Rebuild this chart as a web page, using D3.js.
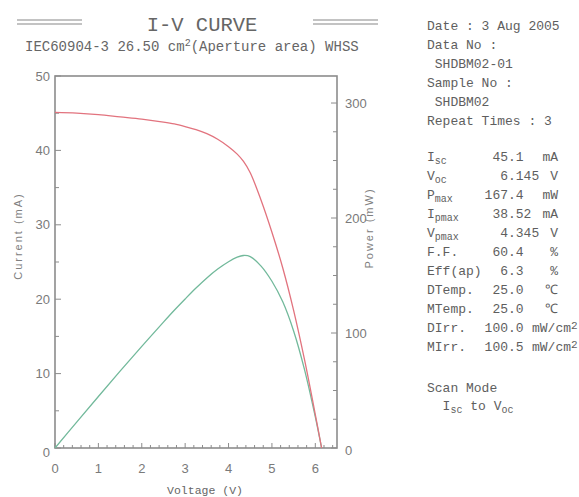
<!DOCTYPE html>
<html><head><meta charset="utf-8">
<script src="https://cdn.jsdelivr.net/npm/d3@7"></script>
<style>
html,body{margin:0;padding:0;background:#fff;}
svg{display:block;}
text{fill:#5e5e5e;}
.mono{font-family:"Liberation Mono","DejaVu Sans Mono",monospace;}
.sans{font-family:"Liberation Sans","Arial",sans-serif;}
</style></head>
<body>
<svg id="chart" width="579" height="497"></svg>
<script>
// ---- data ----
const voltage = [0,0.5,1,1.5,2,2.5,2.75,3,3.25,3.5,3.75,4.0,4.2,4.345,4.5,4.75,5.0,5.25,5.5,5.75,6.0,6.145];
const current = [45.1,45.0,44.8,44.5,44.2,43.8,43.55,43.2,42.8,42.25,41.5,40.5,39.5,38.52,37.0,33.3,29.0,24.2,18.5,11.9,4.5,0];
const power   = [0,22.5,44.8,66.8,88.4,109.5,119.8,129.6,139.1,147.9,155.6,162.0,165.9,167.4,166.5,158.2,145.0,127.1,101.8,68.4,27.0,0];
const xTicks = [0,1,2,3,4,5,6];
const yTicks = [0,10,20,30,40,50];
const y2Ticks = [0,100,200,300];
const titleText = "I-V CURVE";
const subtitleParts = ["IEC60904-3 26.50 cm","2","(Aperture area) WHSS"];
const infoTop = ["Date : 3 Aug 2005","Data No :","SHDBM02-01","Sample No :","SHDBM02","Repeat Times : 3"];
const infoIndent = [0,0,1,0,1,0];
const paramLabels = [["I","sc"],["V","oc"],["P","max"],["I","pmax"],["V","pmax"],["F.F.",""],["Eff(ap)",""],["DTemp.",""],["MTemp.",""],["DIrr.",""],["MIrr.",""]];
const paramValues = ["45.1","6.145","167.4","38.52","4.345","60.4","6.3","25.0","25.0","100.0","100.5"];
const paramUnits = ["mA","V","mW","mA","V","%","%","℃","℃","mW/cm2","mW/cm2"];

const svg = d3.select("#chart");
const L=55, R=337, T=76, B=448;
const x = d3.scaleLinear().domain([0,6.5]).range([L,R]);
const y = d3.scaleLinear().domain([0,50]).range([B,T]);
const y2 = d3.scaleLinear().domain([0,323.5]).range([B,T]);
const gray = "#8c8c8c";

// title
[20,24].forEach(yy=>{
  svg.append("line").attr("x1",17).attr("x2",82).attr("y1",yy).attr("y2",yy).attr("stroke","#888").attr("stroke-width",1.2);
  svg.append("line").attr("x1",313).attr("x2",378).attr("y1",yy).attr("y2",yy).attr("stroke","#888").attr("stroke-width",1.2);
});
svg.append("text").attr("class","mono").attr("x",202).attr("y",31).attr("text-anchor","middle")
  .style("font-size","20.5px").style("fill","#666").text(titleText);
const st = svg.append("text").attr("class","mono").attr("x",25).attr("y",51).style("font-size","14px").style("fill","#666");
st.append("tspan").text(subtitleParts[0]);
st.append("tspan").attr("dy",-5).style("font-size","10px").text(subtitleParts[1]);
st.append("tspan").attr("dy",5).text(subtitleParts[2]);

// ticks (inside)
const tickG = svg.append("g").attr("stroke",gray).attr("stroke-width",1);
d3.range(0,6.5001,0.2).forEach(v=>{
  const major = Math.abs(v-Math.round(v))<1e-6;
  tickG.append("line").attr("x1",x(v)).attr("x2",x(v)).attr("y1",B).attr("y2",B-(major?5:3));
});
d3.range(0,50.001,5).forEach(v=>{
  const major = v%10===0;
  tickG.append("line").attr("x1",L).attr("x2",L+(major?6:4)).attr("y1",y(v)).attr("y2",y(v));
});
d3.range(0,323,25).forEach(v=>{
  const major = v%100===0;
  tickG.append("line").attr("x1",R).attr("x2",R-(major?6:4)).attr("y1",y2(v)).attr("y2",y2(v));
});

// frame
svg.append("rect").attr("x",L).attr("y",T).attr("width",R-L).attr("height",B-T)
  .attr("fill","none").attr("stroke",gray).attr("stroke-width",1.6);

// tick labels
svg.append("g").selectAll("text").data(xTicks).join("text").attr("class","sans")
  .attr("x",d=>x(d)).attr("y",473).attr("text-anchor","middle").style("font-size","13px").style("fill","#7a7a7a").text(d=>d);
svg.append("g").selectAll("text").data(yTicks).join("text").attr("class","sans")
  .attr("x",50).attr("y",d=>y(d)+(d===0?9:4.5)).attr("text-anchor","end").style("font-size","13px").style("fill","#7a7a7a").text(d=>d);
svg.append("g").selectAll("text").data(y2Ticks).join("text").attr("class","sans")
  .attr("x",345).attr("y",d=>y2(d)+(d===0?7:4.5)).attr("text-anchor","start").style("font-size","13px").style("fill","#7a7a7a").text(d=>d);

// axis titles
svg.append("text").attr("class","mono").attr("x",205).attr("y",494).attr("text-anchor","middle")
  .style("font-size","11.5px").style("fill","#666").text("Voltage (V)");
svg.append("text").attr("class","sans").attr("transform","translate(22,236) rotate(-90)").attr("text-anchor","middle")
  .style("font-size","11px").style("letter-spacing","2px").style("fill","#808080").text("Current  (mA)");
svg.append("text").attr("class","sans").attr("transform","translate(373,228) rotate(-90)").attr("text-anchor","middle")
  .style("font-size","11px").style("letter-spacing","2px").style("fill","#808080").text("Power  (mW)");

// curves
const ivLine = d3.line().x((d,i)=>x(voltage[i])).y(d=>y(d)).curve(d3.curveCatmullRom.alpha(0.5));
const pLine = d3.line().x((d,i)=>x(voltage[i])).y(d=>y2(d)).curve(d3.curveCatmullRom.alpha(0.5));
svg.append("path").datum(power).attr("d",pLine).attr("fill","none").attr("stroke","#72b99b").attr("stroke-width",1.3);
svg.append("path").datum(current).attr("d",ivLine).attr("fill","none").attr("stroke","#e2737e").attr("stroke-width",1.3);

// info panel
const cw = 7.8, x0 = 427;
infoTop.forEach((t,i)=>{
  svg.append("text").attr("class","mono").attr("x",x0+infoIndent[i]*cw).attr("y",30+18.9*i)
    .style("font-size","13px").text(t);
});
paramLabels.forEach((lab,i)=>{
  const yy = 161+19*i;
  const t = svg.append("text").attr("class","mono").attr("x",x0).attr("y",yy).style("font-size","13px");
  t.append("tspan").text(lab[0]);
  if(lab[1]) t.append("tspan").attr("dy",3).style("font-size","10px").text(lab[1]);
  const v = paramValues[i];
  const k = v.indexOf(".");
  svg.append("text").attr("class","mono").attr("x",508-k*cw).attr("y",yy).style("font-size","13px").text(v);
  const u = paramUnits[i];
  if(u==="mW/cm2"){
    const ut = svg.append("text").attr("class","mono").attr("x",532).attr("y",yy).style("font-size","13px");
    ut.append("tspan").text("mW/cm");
    ut.append("tspan").attr("dy",-3).style("font-size","11px").text("2");
  } else {
    svg.append("text").attr("class","mono").attr("x",558).attr("y",yy).attr("text-anchor","end").style("font-size","13px").text(u);
  }
});
svg.append("text").attr("class","mono").attr("x",x0).attr("y",392).style("font-size","13px").text("Scan Mode");
const sm = svg.append("text").attr("class","mono").attr("x",x0+2*cw).attr("y",410).style("font-size","13px");
sm.append("tspan").text("I");
sm.append("tspan").attr("dy",3).style("font-size","10px").text("sc");
sm.append("tspan").attr("dy",-3).text(" to V");
sm.append("tspan").attr("dy",3).style("font-size","10px").text("oc");
</script>
</body></html>
